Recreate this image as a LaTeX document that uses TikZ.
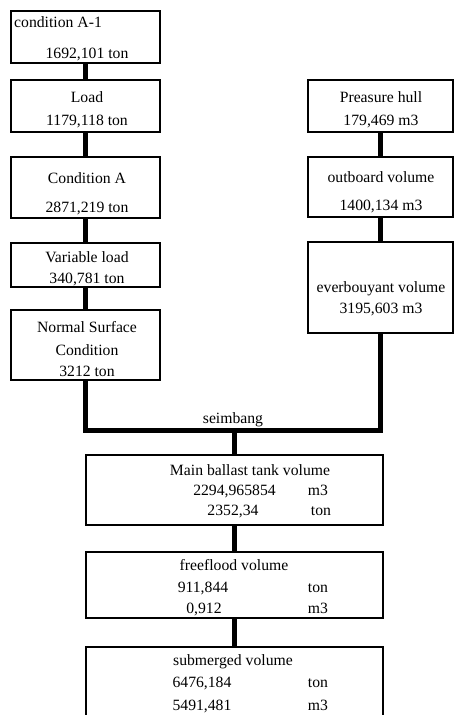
\documentclass[tikz,border=0pt]{standalone}
\usepackage{fontspec}
\setmainfont{Liberation Serif}
\usetikzlibrary{calc, positioning}

\begin{document}
\begin{tikzpicture}[
    x=1pt, y=-1pt,
    box/.style={draw, line width=2pt, inner sep=0pt},
    conn/.style={line width=5pt, line join=miter},
    txt/.style={anchor=base, inner sep=0pt, font=\fontsize{15.7}{18}\selectfont}
]
    \useasboundingbox (0,0) rectangle (454,715);
    \clip (0,0) rectangle (454,715);

    % Left column boxes
    \node[box, minimum width=149, minimum height=52] (condAone) at (85.5,37) {};
    \node[box, minimum width=149, minimum height=52] (load) at (85.5,106) {};
    \node[box, minimum width=149, minimum height=61] (condA) at (85.5,187.5) {};
    \node[box, minimum width=149, minimum height=44] (varload) at (85.5,265) {};
    \node[box, minimum width=149, minimum height=70] (normal) at (85.5,345) {};

    % Right column boxes
    \node[box, minimum width=145, minimum height=52] (hull) at (380.5,106) {};
    \node[box, minimum width=145, minimum height=60] (outboard) at (380.5,187) {};
    \node[box, minimum width=145, minimum height=91] (everb) at (380.5,287.5) {};

    % Bottom boxes
    \node[box, minimum width=297, minimum height=70] (ballast) at (234.5,490) {};
    \node[box, minimum width=297, minimum height=66] (freeflood) at (234.5,585) {};
    \node[box, minimum width=297, minimum height=83] (submerged) at (234.5,688.5) {};

    % Connectors
    \draw[conn] (condAone.south) -- (load.north);
    \draw[conn] (load.south) -- (condA.north);
    \draw[conn] (condA.south) -- (varload.north);
    \draw[conn] (varload.south) -- (normal.north);
    \draw[conn] (hull.south) -- (outboard.north);
    \draw[conn] (outboard.south) -- (everb.north);
    \coordinate (balance) at (234.5,430);
    \draw[conn] (normal.south) |- (balance) -| (everb.south);
    \draw[conn] (balance) -- (ballast.north);
    \draw[conn] (ballast.south) -- (freeflood.north);
    \draw[conn] (freeflood.south) -- (submerged.north);

    % Left column texts
    \node[txt, anchor=base west] (condAoneA) at (14,27) {condition A-1};
    \node[txt] (condAoneB) at (87,58) {1692,101 ton};
    \node[txt] (loadA) at (87,102) {Load};
    \node[txt] (loadB) at (87,125) {1179,118 ton};
    \node[txt] (condAA) at (87,183) {Condition A};
    \node[txt] (condAB) at (87,212) {2871,219 ton};
    \node[txt] (varloadA) at (87,262) {Variable load};
    \node[txt] (varloadB) at (87,283) {340,781 ton};
    \node[txt] (normalA) at (87,332) {Normal Surface};
    \node[txt] (normalB) at (87,355) {Condition};
    \node[txt] (normalC) at (87,376) {3212 ton};

    % Right column texts
    \node[txt] (hullA) at (381,102) {Preasure hull};
    \node[txt] (hullB) at (381,125) {179,469 m3};
    \node[txt] (outboardA) at (381,182) {outboard volume};
    \node[txt] (outboardB) at (381,210) {1400,134 m3};
    \node[txt] (everbA) at (381,292) {everbouyant volume};
    \node[txt] (everbB) at (381,313) {3195,603 m3};

    % Balance label
    \node[txt] (balanceT) at (233,423) {seimbang};

    % Bottom texts
    \node[txt] (ballastA) at (250,475) {Main ballast tank volume};
    \node[txt] (ballastB) at (234.5,495) {2294,965854};
    \node[txt] (ballastC) at (318,495) {m3};
    \node[txt] (ballastD) at (233,515) {2352,34};
    \node[txt] (ballastE) at (321,515) {ton};
    \node[txt] (freefloodA) at (234,570) {freeflood volume};
    \node[txt] (freefloodB) at (203,592) {911,844};
    \node[txt] (freefloodC) at (318,592) {ton};
    \node[txt] (freefloodD) at (204,613) {0,912};
    \node[txt] (freefloodE) at (318,613) {m3};
    \node[txt] (submergedA) at (233,665) {submerged volume};
    \node[txt] (submergedB) at (202,687) {6476,184};
    \node[txt] (submergedC) at (318,687) {ton};
    \node[txt] (submergedD) at (202,710) {5491,481};
    \node[txt] (submergedE) at (318,710) {m3};

\end{tikzpicture}
\end{document}
